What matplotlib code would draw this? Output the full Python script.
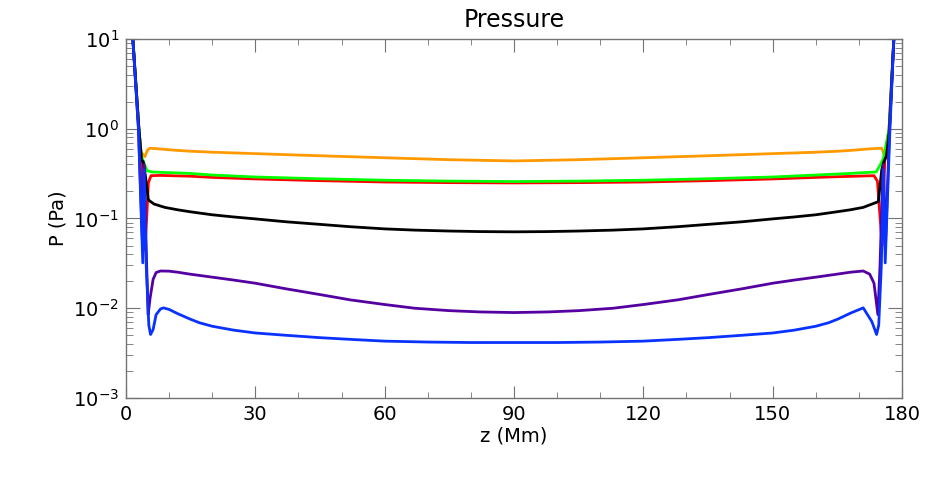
import numpy as np
import matplotlib
matplotlib.use("Agg")
import matplotlib.pyplot as plt
from matplotlib.ticker import MultipleLocator, LogLocator

# pressure profiles along the loop, z in Mm, P in Pa
z_orange = [0, 1.6, 3.0, 3.5, 4.4, 5.0, 5.6, 8, 11, 14.8, 20, 30, 45, 60, 75, 90,
            105, 120, 135, 150, 160, 165.2, 169, 172, 175.3, 176.0, 176.6, 177.0, 178.1, 180]
p_orange = [300, 10, 1.0, 0.55, 0.49, 0.58, 0.607, 0.595, 0.578, 0.562, 0.548, 0.528, 0.50, 0.475, 0.452, 0.438,
            0.452, 0.475, 0.50, 0.528, 0.548, 0.562, 0.578, 0.595, 0.607, 0.49, 0.55, 1.0, 10, 300]

z_red = [0, 1.6, 3.0, 3.6, 4.4, 4.8, 5.2, 5.8, 8, 14.8, 20, 30, 45, 60, 75, 90,
         105, 120, 135, 150, 160, 165, 173.5, 174.3, 174.8, 175.4, 176.0, 177.0, 178.1, 180]
p_red = [300, 10, 1.0, 0.45, 0.045, 0.1, 0.25, 0.30, 0.302, 0.296, 0.287, 0.276, 0.264, 0.255, 0.251, 0.249,
         0.251, 0.255, 0.264, 0.276, 0.287, 0.292, 0.30, 0.26, 0.12, 0.05, 0.45, 1.0, 10, 300]

z_green = [0, 1.6, 3.0, 3.6, 4.9, 6.0, 14.8, 20, 30, 45, 60, 75, 90,
           105, 120, 135, 150, 160, 168, 174.0, 175.0, 175.7, 177.0, 178.1, 180]
p_green = [300, 10, 1.0, 0.49, 0.34, 0.33, 0.318, 0.305, 0.29, 0.277, 0.267, 0.261, 0.258,
           0.261, 0.267, 0.277, 0.29, 0.305, 0.318, 0.33, 0.40, 0.47, 1.0, 10, 300]

z_black = [0, 1.6, 3.0, 3.6, 4.0, 4.5, 5.2, 6.5, 9, 12, 14.8, 20, 25, 30, 37, 45, 52, 60, 67, 75, 82, 90,
           98, 105, 113, 120, 128, 135, 143, 150, 155, 160, 165, 168, 171, 174.5, 175.3, 175.8, 176.4, 177.1, 178.1, 180]
p_black = [300, 10, 1.0, 0.45, 0.43, 0.3, 0.161, 0.145, 0.133, 0.125, 0.119, 0.11, 0.104, 0.099, 0.092, 0.086, 0.081, 0.0766, 0.0742, 0.0725, 0.0715, 0.071,
           0.0715, 0.0725, 0.0742, 0.0766, 0.081, 0.086, 0.092, 0.099, 0.104, 0.11, 0.119, 0.125, 0.133, 0.154, 0.35, 0.43, 0.5, 1.0, 10, 300]

z_purple = [0, 1.6, 2.9, 3.8, 4.2, 4.8, 5.15, 5.6, 6.3, 7.0, 8.0, 10, 12, 14.8, 20, 25, 30, 37, 45, 52, 60, 67, 75, 82, 90,
            98, 105, 113, 120, 128, 135, 143, 150, 155, 160, 165, 168, 171, 172.5, 173.5, 174.4, 174.9, 175.6, 176.2, 177.1, 178.1, 180]
p_purple = [300, 10, 1.0, 0.057, 0.4, 0.03, 0.0085, 0.013, 0.021, 0.025, 0.026, 0.0259, 0.0252, 0.024, 0.0222, 0.0206, 0.019, 0.0165, 0.0142, 0.0124, 0.011, 0.01, 0.0094, 0.0091, 0.00895,
            0.0091, 0.0094, 0.01, 0.011, 0.0124, 0.0142, 0.0165, 0.019, 0.0206, 0.0222, 0.024, 0.0252, 0.026, 0.024, 0.019, 0.0085, 0.03, 0.4, 0.057, 1.0, 10, 300]

z_blue = [0, 1.6, 2.9, 3.9, 4.2, 4.7, 5.3, 5.7, 6.3, 7.0, 8.0, 8.7, 10, 12, 14.8, 17, 20, 25, 30, 37, 45, 52, 60, 70, 80, 90,
          100, 110, 120, 128, 135, 143, 150, 155, 160, 163, 165.2, 168, 171.0, 173.0, 174.1, 174.6, 175.2, 175.7, 176.1, 177.2, 178.1, 180]
p_blue = [300, 10, 1.0, 0.032, 0.35, 0.03, 0.0065, 0.0051, 0.0058, 0.0085, 0.0098, 0.0101, 0.0097, 0.0087, 0.0076, 0.0069, 0.0063, 0.0057, 0.0053, 0.005, 0.0047, 0.0045, 0.0043, 0.0042, 0.00415, 0.00415,
          0.00415, 0.0042, 0.0043, 0.0045, 0.0047, 0.005, 0.0053, 0.0057, 0.0063, 0.0069, 0.0076, 0.0088, 0.0101, 0.0071, 0.0051, 0.0065, 0.03, 0.35, 0.032, 1.0, 10, 300]

curves = [(z_orange, p_orange, "#ff9900"),
          (z_red, p_red, "#ff0000"),
          (z_green, p_green, "#00ff00"),
          (z_black, p_black, "black"),
          (z_purple, p_purple, "#5500a0"),
          (z_blue, p_blue, "#0a32ff")]

fig = plt.figure(figsize=(9.4, 4.78), dpi=100)
ax = fig.add_axes([0.134, 0.1674, 0.8256, 0.751])

for z, p, col in curves:
    ax.plot(z, p, color=col, linewidth=2)

ax.set_yscale("log")
ax.set_xlim(0, 180)
ax.set_ylim(1e-3, 1e1)

ax.xaxis.set_major_locator(MultipleLocator(30))
ax.xaxis.set_minor_locator(MultipleLocator(10))
ax.yaxis.set_major_locator(LogLocator(base=10))
ax.yaxis.set_minor_locator(LogLocator(base=10, subs=np.arange(2, 10)))

axcol = "0.45"
for s in ax.spines.values():
    s.set_color(axcol)
    s.set_linewidth(1)
ax.tick_params(which="both", direction="in", top=True, right=True, color=axcol, labelsize=14)
ax.tick_params(axis="x", which="major", length=9, pad=5)
ax.tick_params(axis="x", which="minor", length=4.5)
ax.tick_params(axis="y", which="major", length=10, pad=5)
ax.tick_params(axis="y", which="minor", length=5)

ax.set_xlabel("z (Mm)", fontsize=14, labelpad=2)
ax.set_ylabel("P (Pa)", fontsize=14, labelpad=4)
ax.set_title("Pressure", fontsize=17, pad=9)

fig.savefig("out.png", dpi=100)
